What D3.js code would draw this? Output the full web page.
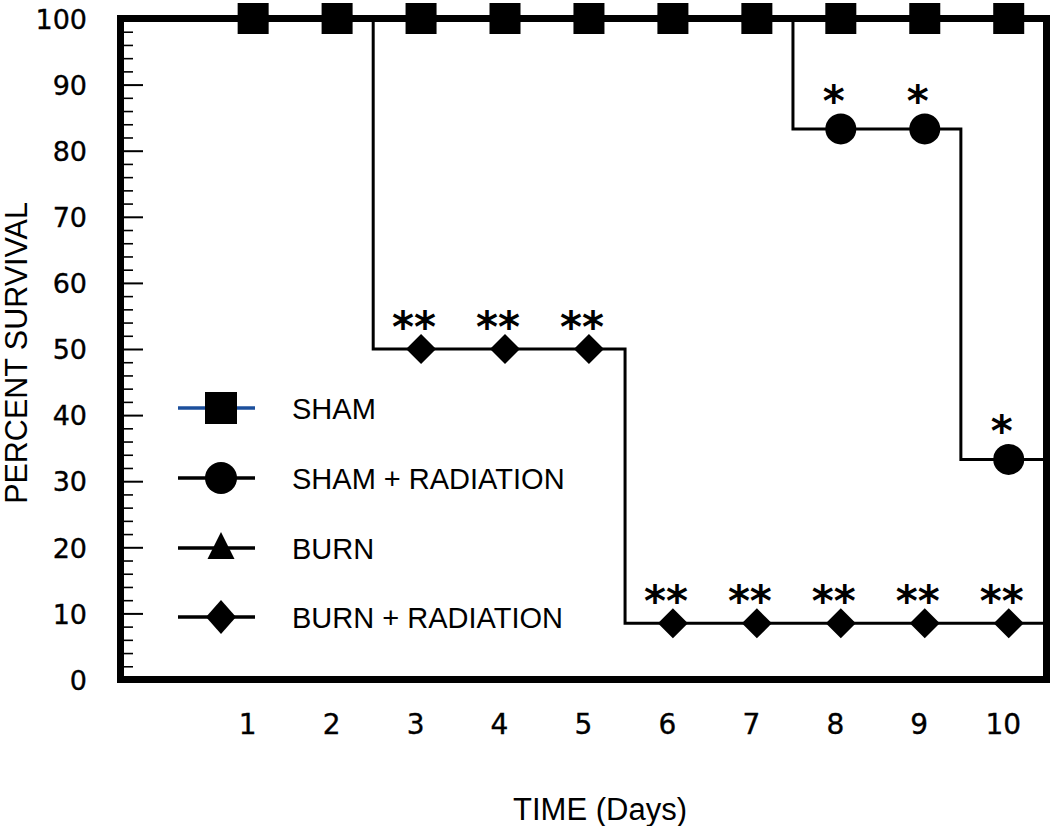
<!DOCTYPE html>
<html>
<head>
<meta charset="utf-8">
<script src="https://cdn.jsdelivr.net/npm/d3@7"></script>
<style>
  html, body { margin: 0; padding: 0; background: #fff; }
  svg { display: block; }
</style>
</head>
<body>
<svg id="chart" width="1050" height="826"></svg>
<script>
// ---------- data ----------
const days = [1, 2, 3, 4, 5, 6, 7, 8, 9, 10];
const startValue = 100;
const sham = [100, 100, 100, 100, 100, 100, 100, 100, 100, 100];
const shamRadiation = [100, 100, 100, 100, 100, 100, 100, 83.3, 83.3, 33.3];
const burn = [100, 100, 100, 100, 100, 100, 100, 100, 100, 100];
const burnRadiation = [100, 100, 50, 50, 50, 8.5, 8.5, 8.5, 8.5, 8.5];
const shamRadiationSig = ["", "", "", "", "", "", "", "*", "*", "*"];
const burnRadiationSig = ["", "", "**", "**", "**", "**", "**", "**", "**", "**"];
const yTicksMajor = [0, 10, 20, 30, 40, 50, 60, 70, 80, 90, 100];
const yTicksMinor = d3.range(0, 101, 2).filter(v => v % 10 !== 0);
const legendLabels = ["SHAM", "SHAM + RADIATION", "BURN", "BURN + RADIATION"];
const xTitle = "TIME (Days)";
const yTitle = "PERCENT SURVIVAL";

// ---------- layout ----------
const svg = d3.select("#chart");
const L = 120.5, R = 1046.5, T = 18.5, B = 679.5;
const x = d3.scaleLinear().domain([-0.58, 10.45]).range([L, R]);
const y = d3.scaleLinear().domain([0, 100]).range([B, T]);
const stepOffset = 0.57;   // drop drawn this far before the day it is recorded
const xEnd = 10.45;

function stepPoints(vals) {
  const pts = [[-0.58, startValue]];
  vals.forEach((v, i) => pts.push([days[i] - stepOffset, v]));
  pts.push([xEnd, vals[vals.length - 1]]);
  return pts;
}
const line = d3.line().x(d => x(d[0])).y(d => y(d[1])).curve(d3.curveStepAfter);

// ---------- axes ----------
const gMinor = svg.append("g").attr("transform", `translate(${L},0)`)
  .call(d3.axisRight(y).tickValues(yTicksMinor).tickSize(12.5).tickFormat(""));
gMinor.select(".domain").remove();
gMinor.selectAll("line").attr("stroke", "#000").attr("stroke-width", 1.6);
const gMajor = svg.append("g").attr("transform", `translate(${L},0)`)
  .call(d3.axisRight(y).tickValues(yTicksMajor.filter(v => v > 0 && v < 100)).tickSize(22.5).tickFormat(""));
gMajor.select(".domain").remove();
gMajor.selectAll("line").attr("stroke", "#000").attr("stroke-width", 2);

const gYL = svg.append("g").attr("transform", `translate(${L},0)`)
  .call(d3.axisLeft(y).tickValues(yTicksMajor).tickSize(0).tickPadding(33.5).tickFormat(d3.format("d")));
gYL.select(".domain").remove();
gYL.selectAll("text")
  .attr("font-family", "DejaVu Sans, sans-serif")
  .attr("font-size", 27)
  .attr("fill", "#000")
  .attr("stroke", "#000").attr("stroke-width", 0.35)
  .attr("dy", "0.36em");

const gXL = svg.append("g").attr("transform", `translate(0,${B})`)
  .call(d3.axisBottom(x).tickValues(days).tickSize(0).tickPadding(35).tickFormat(d3.format("d")));
gXL.select(".domain").remove();
gXL.selectAll("text")
  .attr("font-family", "DejaVu Sans, sans-serif")
  .attr("font-size", 28)
  .attr("fill", "#000")
  .attr("stroke", "#000").attr("stroke-width", 0.35)
  .attr("dx", -6);

// titles
svg.append("text")
  .attr("transform", `translate(16,353) rotate(-90)`)
  .attr("text-anchor", "middle")
  .attr("dominant-baseline", "central")
  .attr("font-family", "Liberation Sans, Arial, sans-serif")
  .attr("font-size", 30.5)
  .text(yTitle);
svg.append("text")
  .attr("x", 600).attr("y", 820)
  .attr("text-anchor", "middle")
  .attr("font-family", "Liberation Sans, Arial, sans-serif")
  .attr("font-size", 31)
  .text(xTitle);

// ---------- step lines ----------
const seriesList = [
  { vals: sham, color: "#000" },
  { vals: burn, color: "#000" },
  { vals: shamRadiation, color: "#000" },
  { vals: burnRadiation, color: "#000" }
];
seriesList.forEach(s => {
  svg.append("path").datum(stepPoints(s.vals))
    .attr("d", line).attr("fill", "none")
    .attr("stroke", s.color).attr("stroke-width", 3);
});

// ---------- frame ----------
svg.append("rect")
  .attr("x", L).attr("y", T).attr("width", R - L).attr("height", B - T)
  .attr("fill", "none").attr("stroke", "#000").attr("stroke-width", 7);

// ---------- markers ----------
function drawMarkers(vals, shape) {
  const g = svg.append("g");
  vals.forEach((v, i) => {
    const cx = x(days[i]), cy = y(v);
    if (shape === "square") {
      g.append("rect").attr("x", cx - 15.5).attr("y", cy - 15.5).attr("width", 31).attr("height", 31).attr("fill", "#000");
    } else if (shape === "circle") {
      g.append("circle").attr("cx", cx).attr("cy", cy).attr("r", 15.5).attr("fill", "#000");
    } else if (shape === "triangle") {
      g.append("path").attr("d", "M0,-14L14,12L-14,12Z").attr("transform", `translate(${cx},${cy})`).attr("fill", "#000");
    } else {
      g.append("path").attr("d", "M0,-15L15,0L0,15L-15,0Z").attr("transform", `translate(${cx},${cy})`).attr("fill", "#000");
    }
  });
}
drawMarkers(burn, "triangle");
drawMarkers(burnRadiation, "diamond");
drawMarkers(shamRadiation, "circle");
drawMarkers(sham, "square");

// ---------- significance marks ----------
function drawSig(vals, sig, lift) {
  sig.forEach((s, i) => {
    if (!s) return;
    svg.append("text")
      .attr("x", x(days[i]) - 7).attr("y", y(vals[i]) - lift)
      .attr("text-anchor", "middle")
      .attr("font-family", "DejaVu Sans, sans-serif")
      .attr("font-weight", "bold")
      .attr("font-size", 42)
      .text(s);
  });
}
drawSig(shamRadiation, shamRadiationSig, 13);
drawSig(burnRadiation, burnRadiationSig, 7);

// ---------- legend ----------
const legendRows = [408, 478, 548, 617];
const legendShapes = ["square", "circle", "triangle", "diamond"];
const legendLineColors = ["#1c4f9c", "#000", "#000", "#000"];
legendLabels.forEach((lab, i) => {
  const ly = legendRows[i];
  svg.append("line").attr("x1", 178).attr("x2", 255).attr("y1", ly).attr("y2", ly)
    .attr("stroke", legendLineColors[i]).attr("stroke-width", 3.5);
  const cx = 221;
  const shp = legendShapes[i];
  if (shp === "square") {
    svg.append("rect").attr("x", cx - 16).attr("y", ly - 16).attr("width", 32).attr("height", 32).attr("fill", "#000");
  } else if (shp === "circle") {
    svg.append("circle").attr("cx", cx).attr("cy", ly).attr("r", 16).attr("fill", "#000");
  } else if (shp === "triangle") {
    svg.append("path").attr("d", "M0,-16L13.5,11L-13.5,11Z").attr("transform", `translate(${cx},${ly})`).attr("fill", "#000");
  } else {
    svg.append("path").attr("d", "M0,-17L15,0L0,17L-15,0Z").attr("transform", `translate(${cx},${ly})`).attr("fill", "#000");
  }
  svg.append("text").attr("x", 292).attr("y", ly + 10.5)
    .attr("font-family", "Liberation Sans, Arial, sans-serif")
    .attr("font-size", 29)
    .text(lab);
});
</script>
</body>
</html>
